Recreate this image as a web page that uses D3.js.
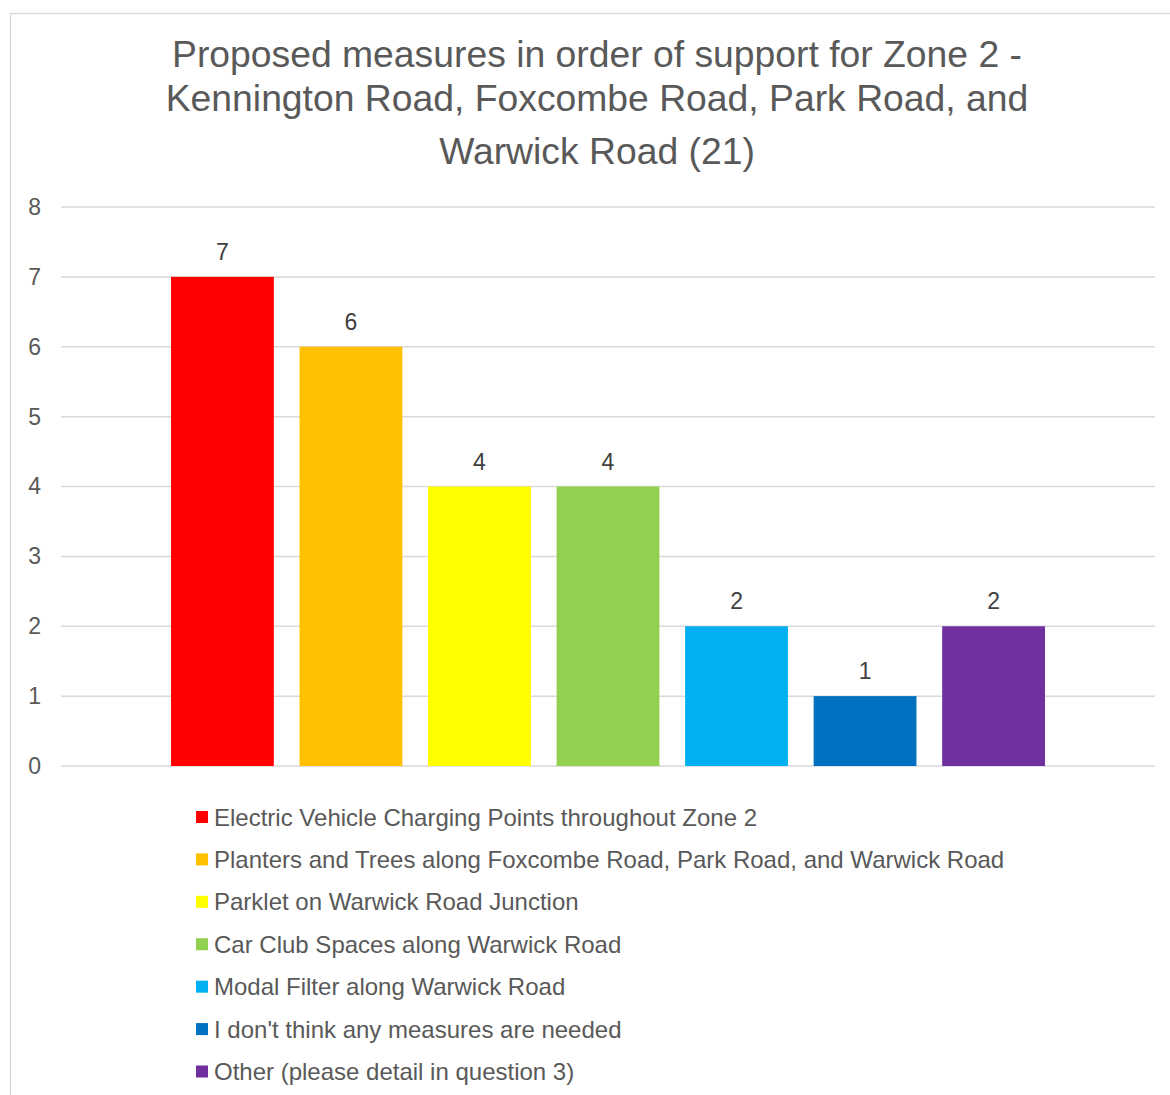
<!DOCTYPE html>
<html>
<head>
<meta charset="utf-8">
<script src="https://cdn.jsdelivr.net/npm/d3@7"></script>
<style>
  html, body { margin: 0; padding: 0; background: #fff; }
  svg { display: block; font-family: "Liberation Sans", Arial, sans-serif; }
</style>
</head>
<body>
<svg id="chart" width="1170" height="1095"></svg>
<script>
const titleLines = [
  "Proposed measures in order of support for Zone 2 -",
  "Kennington Road, Foxcombe Road, Park Road, and",
  "Warwick Road (21)"
];
const categories = ["Zone 2"];
const seriesNames = [
  "Electric Vehicle Charging Points throughout Zone 2",
  "Planters and Trees along Foxcombe Road, Park Road, and Warwick Road",
  "Parklet on Warwick Road Junction",
  "Car Club Spaces along Warwick Road",
  "Modal Filter along Warwick Road",
  "I don't think any measures are needed",
  "Other (please detail in question 3)"
];
const seriesValues = [7, 6, 4, 4, 2, 1, 2];
const seriesColors = ["#FF0000", "#FFC000", "#FFFF00", "#92D050", "#00B0F0", "#0070C0", "#7030A0"];
const yTicks = [0, 1, 2, 3, 4, 5, 6, 7, 8];

(function () {
const svg = d3.select("#chart");

// chart border
svg.append("rect")
  .attr("x", 10.5).attr("y", 13.5)
  .attr("width", 1200).attr("height", 1200)
  .attr("fill", "#fff").attr("stroke", "#d9d9d9").attr("stroke-width", 1.3);

// title
const titleY = [67, 111, 164];
svg.append("g").selectAll("text").data(titleLines).join("text")
  .attr("x", 597).attr("y", (d, i) => titleY[i])
  .attr("text-anchor", "middle")
  .attr("font-size", 37.3).attr("fill", "#595959")
  .text(d => d);

const pLeft = 61, pRight = 1155, pTop = 207, pBottom = 766;
const y = d3.scaleLinear().domain([0, 8]).range([pBottom, pTop]);
const x0 = d3.scaleBand().domain(categories).range([pLeft, pRight]).paddingOuter(0.108).paddingInner(0);
const x1 = d3.scaleBand().domain(seriesNames).range([0, x0.bandwidth()]).paddingInner(0.2).paddingOuter(0.1);

// gridlines
svg.append("g").selectAll("line").data(yTicks).join("line")
  .attr("x1", pLeft).attr("x2", pRight)
  .attr("y1", d => y(d)).attr("y2", d => y(d))
  .attr("stroke", "#d9d9d9").attr("stroke-width", 1.5);

// y axis labels
const yAxis = d3.axisLeft(y).tickValues(yTicks).tickSize(0).tickPadding(0);
const ya = svg.append("g").attr("transform", `translate(41,0)`).call(yAxis);
ya.select(".domain").remove();
ya.selectAll("text").attr("font-size", 23).attr("fill", "#595959")
  .attr("font-family", "Liberation Sans, Arial, sans-serif");

// bars
const rows = seriesNames.map((n, i) => ({ name: n, value: seriesValues[i], color: seriesColors[i], cat: categories[0] }));
const g = svg.append("g");
g.selectAll("rect").data(rows).join("rect")
  .attr("x", d => x0(d.cat) + x1(d.name))
  .attr("width", x1.bandwidth())
  .attr("y", d => y(d.value))
  .attr("height", d => y(0) - y(d.value))
  .attr("fill", d => d.color);

// data labels
g.selectAll("text").data(rows).join("text")
  .attr("x", d => x0(d.cat) + x1(d.name) + x1.bandwidth() / 2)
  .attr("y", d => y(d.value) - 17)
  .attr("text-anchor", "middle")
  .attr("font-size", 23).attr("fill", "#404040")
  .text(d => d.value);

// legend
const lg = svg.append("g").attr("transform", "translate(196,0)");
const legY = d3.scaleLinear().domain([0, 6]).range([817, 1071.5]);
const items = lg.selectAll("g").data(rows).join("g")
  .attr("transform", (d, i) => `translate(0,${legY(i)})`);
items.append("rect").attr("x", 0).attr("y", -6).attr("width", 12).attr("height", 12).attr("fill", d => d.color);
items.append("text").attr("x", 18).attr("y", 8.5)
  .attr("font-size", 24).attr("fill", "#595959")
  .text(d => d.name);
})();
</script>
</body>
</html>
